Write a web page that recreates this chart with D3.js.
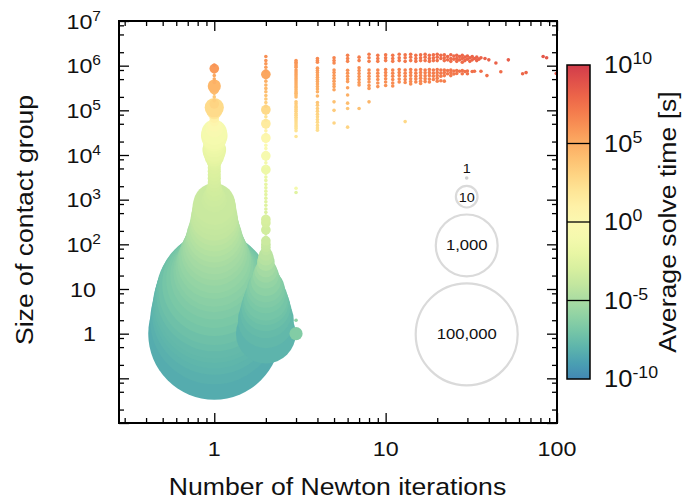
<!DOCTYPE html>
<html>
<head>
<meta charset="utf-8">
<script src="https://cdn.jsdelivr.net/npm/d3@7"></script>
<style>
  body { margin: 0; background: #fff; }
  svg { display: block; }
  text { font-family: "Liberation Sans", Arial, Helvetica, sans-serif; fill: #111; }
</style>
</head>
<body>
<svg id="chart" width="685" height="501"></svg>
<script>
// ---------------------------------------------------------------
// Contact groups solved in one Newton iteration: [group size, number of groups, log10 avg solve time]
const groupsOneIter = [
  [1, 2.5e6, -8.4], [2, 1.6e6, -8.2], [3, 1.1e6, -8.0], [4, 9e5, -7.9], [5, 7e5, -7.8],
  [6, 5.6e5, -7.7], [8, 4e5, -7.5], [10, 2.5e5, -7.3], [13, 1e5, -7.0], [16, 4e4, -6.8],
  [20, 1.6e4, -6.6], [25, 7900, -6.4], [30, 5000, -6.2], [40, 3200, -6.0], [50, 2200, -5.8],
  [65, 1300, -5.6], [80, 890, -5.4], [100, 630, -5.2], [130, 450, -5.0], [160, 355, -4.8],
  [200, 250, -4.6], [250, 200, -4.4], [320, 160, -4.2], [400, 140, -4.0], [500, 112, -3.9],
  [650, 100, -3.8], [800, 80, -3.7], [1000, 12, -3.6], [1200, 8, -3.5], [1450, 5, -3.4],
  [1750, 4, -3.3], [2100, 3, -3.2], [2500, 3, -3.1], [3000, 3, -3.0], [3600, 3, -2.9],
  [4300, 3, -2.8], [5200, 3, -2.7], [6200, 3, -2.6], [7500, 4, -2.5], [9000, 6, -2.3],
  [11000, 8, -2.1], [13000, 10, -1.9], [15500, 8, -1.7], [18500, 8, -1.5], [22000, 10, -1.3],
  [27000, 14, -1.1], [32000, 12, -0.8], [39000, 5, -0.4], [47000, 3, 0.0], [56000, 2, 0.5],
  [67000, 2, 1.0], [80000, 2, 1.5], [96000, 4, 2.0], [115000, 6, 2.6], [140000, 2, 3.0],
  [165000, 1, 3.3], [200000, 1, 3.6], [240000, 1, 3.9], [290000, 2, 4.2], [350000, 3, 4.5],
  [420000, 1, 4.8], [500000, 1, 5.0], [600000, 1, 5.2], [720000, 1, 5.4], [860000, 2, 5.7],
  [1030000, 1, 6.0]
];

// Contact groups solved in two Newton iterations
const groupsTwoIter = [
  [1, 630, -8.0], [2, 400, -7.8], [3, 250, -7.6], [4, 180, -7.4], [5, 125, -7.2],
  [6, 100, -7.0], [8, 63, -6.8], [10, 50, -6.6], [12, 32, -6.4], [15, 20, -6.1],
  [20, 13, -5.8], [25, 9, -5.5], [30, 6, -5.2], [40, 5, -4.8], [50, 4, -4.5],
  [60, 3, -4.3], [72, 2, -4.1], [86, 2, -3.9], [100, 2, -3.8], [120, 2, -3.6],
  [145, 1, -3.5], [175, 1, -3.4], [210, 2, -3.3], [250, 1, -3.2], [300, 2, -3.1],
  [360, 2, -3.0], [430, 1, -2.9], [520, 1, -2.8], [620, 1, -2.7], [750, 1, -2.6],
  [900, 1, -2.5], [1080, 1, -2.4], [1300, 1, -2.3], [1550, 1, -2.2], [1850, 1, -2.1],
  [2200, 1, -2.0], [2700, 1, -1.9], [3200, 1, -1.8], [3900, 1, -1.7], [4700, 2, -1.5],
  [5600, 1, -1.3], [6700, 1, -1.1], [8000, 1, -0.9], [9600, 2, -0.7], [11500, 1, -0.5],
  [14000, 1, -0.3], [16500, 1, -0.1], [20000, 1, 0.1], [24000, 2, 0.3], [29000, 1, 0.6],
  [35000, 1, 0.9], [42000, 1, 1.2], [50000, 2, 1.5], [60000, 1, 1.8], [72000, 1, 2.1],
  [86000, 1, 2.4], [103000, 2, 2.7], [124000, 1, 3.0], [150000, 1, 3.3], [180000, 1, 3.6],
  [215000, 1, 3.9], [260000, 1, 4.2], [310000, 1, 4.4], [370000, 1, 4.6], [450000, 1, 4.8],
  [540000, 1, 5.0], [640000, 2, 5.2], [770000, 1, 5.4], [920000, 1, 5.6], [1100000, 1, 5.8],
  [1300000, 1, 6.0], [1600000, 1, 6.2]
];

// Small contact groups solved in three Newton iterations
const groupsThreeIterSmall = [
  [1, 3, -6.5], [2, 1, -6.0]
];

// Single contact groups with three or more iterations: [iterations, group size, log10 avg solve time]
const singleGroups = [
  [3, 1.3e6, 6.0], [3, 1.2e6, 6.0], [3, 1.1e6, 5.9], [3, 1.0e6, 5.8], [3, 9.2e5, 5.7],
  [3, 8.0e5, 5.6], [3, 7.2e5, 5.5], [3, 6.5e5, 5.4], [3, 5.9e5, 5.3], [3, 5.3e5, 5.2],
  [3, 4.8e5, 5.1], [3, 4.3e5, 5.0], [3, 3.9e5, 4.9], [3, 3.5e5, 4.8], [3, 3.2e5, 4.7],
  [3, 2.9e5, 4.6], [3, 2.6e5, 4.5], [3, 2.4e5, 4.4], [3, 2.2e5, 4.3], [3, 2.0e5, 4.2],
  [3, 1.55e5, 3.6], [3, 1.4e5, 3.5], [3, 1.25e5, 3.4], [3, 1.15e5, 3.3], [3, 1.05e5, 3.2],
  [3, 9.5e4, 3.1], [3, 8.5e4, 3.0], [3, 7.8e4, 2.9], [3, 7.0e4, 2.8], [3, 6.4e4, 2.7],
  [3, 5.8e4, 2.6], [3, 5.2e4, 2.5], [3, 4.7e4, 2.4], [3, 4.3e4, 2.3], [3, 3.9e4, 2.2],
  [3, 3.5e4, 2.1], [3, 2.6e4, 2.0], [3, 1800, -1.0], [3, 1450, -2.5],
  [4, 1.45e6, 6.4], [4, 1.3e6, 6.3], [4, 1.2e6, 6.3], [4, 8.8e5, 5.8], [4, 7.8e5, 5.7],
  [4, 7.0e5, 5.6], [4, 6.2e5, 5.5], [4, 5.5e5, 5.4], [4, 4.9e5, 5.3], [4, 4.4e5, 5.2],
  [4, 3.9e5, 5.1], [4, 3.4e5, 5.0], [4, 3.0e5, 4.9], [4, 2.6e5, 4.8], [4, 2.1e5, 4.5],
  [4, 1.5e5, 3.8], [4, 1.3e5, 3.6], [4, 1.1e5, 3.4], [4, 9.5e4, 3.2], [4, 8.2e4, 3.0],
  [4, 7.2e4, 2.9], [4, 6.2e4, 2.8], [4, 5.4e4, 2.7], [4, 4.6e4, 2.6], [4, 4.0e4, 2.5],
  [4, 3.6e4, 2.4],
  [5, 1.5e6, 6.6], [5, 1.3e6, 6.5], [5, 1.15e6, 6.4], [5, 8e5, 6.0], [5, 7e5, 5.9],
  [5, 6e5, 5.8], [5, 5.2e5, 5.7], [5, 4.5e5, 5.6], [5, 3.9e5, 5.5], [5, 3.4e5, 5.4],
  [5, 2.9e5, 5.3], [5, 1.55e5, 4.0], [5, 1.0e5, 3.5], [5, 5.2e4, 3.0],
  [6, 1.7e6, 6.8], [6, 1.45e6, 6.7], [6, 1.25e6, 6.6], [6, 7.9e5, 6.1], [6, 6.8e5, 6.0],
  [6, 5.8e5, 5.9], [6, 5e5, 5.8], [6, 4.4e5, 5.7], [6, 3.2e5, 5.4], [6, 2.2e5, 4.8],
  [6, 1.45e5, 4.2], [6, 1.1e5, 3.8], [6, 4.2e4, 3.0],
  [7, 1.55e6, 6.9], [7, 1.3e6, 6.8], [7, 9e5, 6.3], [7, 7.8e5, 6.2], [7, 6.7e5, 6.1],
  [7, 5.7e5, 6.0], [7, 4.9e5, 5.9], [7, 4.2e5, 5.8], [7, 3.7e5, 5.7], [7, 1.1e5, 4.0],
  [8, 1.8e6, 7.0], [8, 1.5e6, 6.9], [8, 1.25e6, 6.8], [8, 8e5, 6.4], [8, 6.8e5, 6.3],
  [8, 5.8e5, 6.2], [8, 5e5, 6.1], [8, 4.3e5, 6.0], [8, 3.6e5, 5.9], [8, 3.1e5, 5.8],
  [8, 1.55e5, 4.6],
  [9, 1.7e6, 7.1], [9, 1.45e6, 7.0], [9, 1.25e6, 6.9], [9, 8e5, 6.5], [9, 6.8e5, 6.4],
  [9, 5.8e5, 6.3], [9, 4.9e5, 6.2], [9, 4.1e5, 6.1], [9, 3.4e5, 6.0],
  [10, 1.75e6, 7.2], [10, 1.5e6, 7.1], [10, 1.3e6, 7.0], [10, 8.2e5, 6.6], [10, 7e5, 6.5],
  [10, 6e5, 6.4], [10, 5.1e5, 6.3], [10, 4.3e5, 6.2], [10, 3.6e5, 6.1],
  [11, 1.7e6, 7.2], [11, 1.45e6, 7.1], [11, 1.25e6, 7.0], [11, 8e5, 6.7], [11, 6.8e5, 6.6],
  [11, 5.8e5, 6.5], [11, 4.9e5, 6.4], [11, 4.1e5, 6.3], [11, 3.5e5, 6.2],
  [12, 1.8e6, 7.3], [12, 1.5e6, 7.2], [12, 1.3e6, 7.1], [12, 8.2e5, 6.7], [12, 7e5, 6.6],
  [12, 6e5, 6.5], [12, 5e5, 6.4], [12, 4.3e5, 6.3],
  [13, 1.75e6, 7.3], [13, 1.5e6, 7.2], [13, 1.25e6, 7.1], [13, 8e5, 6.8], [13, 6.8e5, 6.7],
  [13, 5.8e5, 6.6], [13, 4.9e5, 6.5], [13, 4.2e5, 6.4], [13, 5.6e4, 2.8],
  [14, 1.8e6, 7.4], [14, 1.55e6, 7.3], [14, 1.3e6, 7.2], [14, 8.2e5, 6.8], [14, 7e5, 6.7],
  [14, 6e5, 6.6], [14, 5.1e5, 6.5], [14, 4.4e5, 6.4], [14, 3.9e5, 6.3],
  [15, 1.7e6, 7.4], [15, 1.45e6, 7.3], [15, 1.25e6, 7.2], [15, 8e5, 6.9], [15, 6.8e5, 6.8],
  [15, 5.8e5, 6.7], [15, 5e5, 6.6], [15, 4.3e5, 6.5],
  [16, 1.75e6, 7.5], [16, 1.5e6, 7.4], [16, 1.3e6, 7.3], [16, 8.2e5, 6.9], [16, 7e5, 6.8],
  [16, 6e5, 6.7], [16, 5.2e5, 6.6], [16, 4.5e5, 6.5], [16, 4e5, 6.4],
  [17, 1.8e6, 7.5], [17, 1.55e6, 7.4], [17, 1.3e6, 7.3], [17, 8e5, 7.0], [17, 6.9e5, 6.9],
  [17, 5.9e5, 6.8], [17, 5.1e5, 6.7], [17, 4.4e5, 6.6],
  [18, 1.7e6, 7.6], [18, 1.45e6, 7.5], [18, 1.25e6, 7.4], [18, 8.2e5, 7.0], [18, 7e5, 6.9],
  [18, 6e5, 6.8], [18, 5e5, 6.7], [18, 4.3e5, 6.6],
  [19, 1.75e6, 7.6], [19, 1.5e6, 7.5], [19, 1.3e6, 7.4], [19, 8e5, 7.1], [19, 6.8e5, 7.0],
  [19, 5.8e5, 6.9], [19, 4.9e5, 6.8],
  [20, 1.8e6, 7.7], [20, 1.55e6, 7.6], [20, 1.3e6, 7.5], [20, 8.2e5, 7.1], [20, 7e5, 7.0],
  [20, 6e5, 6.9], [20, 5.2e5, 6.8], [20, 4.5e5, 6.7],
  [21, 1.7e6, 7.7], [21, 1.45e6, 7.6], [21, 8e5, 7.2], [21, 6.8e5, 7.1], [21, 5.8e5, 7.0],
  [21, 4.6e5, 6.8],
  [22, 1.75e6, 7.7], [22, 1.5e6, 7.6], [22, 1.3e6, 7.5], [22, 8e5, 7.2], [22, 7e5, 7.1],
  [22, 6e5, 7.0], [22, 4.5e5, 6.8],
  [23, 1.6e6, 7.8], [23, 1.35e6, 7.7], [23, 7.8e5, 7.2], [23, 6.6e5, 7.1],
  [24, 1.75e6, 7.8], [24, 1.45e6, 7.7], [24, 1.25e6, 7.6], [24, 8e5, 7.3], [24, 7e5, 7.2],
  [24, 6e5, 7.1],
  [25, 1.65e6, 7.8], [25, 1.4e6, 7.7], [25, 7.6e5, 7.3], [25, 6.5e5, 7.2],
  [26, 1.7e6, 7.9], [26, 1.45e6, 7.8], [26, 1.25e6, 7.7], [26, 7.8e5, 7.3], [26, 6.7e5, 7.2],
  [27, 1.6e6, 7.9], [27, 1.35e6, 7.8], [27, 7.5e5, 7.4],
  [28, 1.7e6, 7.9], [28, 1.45e6, 7.8], [28, 1.2e6, 7.7], [28, 7.8e5, 7.4], [28, 6.6e5, 7.3],
  [29, 1.55e6, 8.0], [29, 1.3e6, 7.9], [29, 7.4e5, 7.4],
  [30, 1.65e6, 8.0], [30, 1.4e6, 7.9], [30, 7.6e5, 7.5], [30, 6.6e5, 7.4],
  [31, 1.5e6, 8.0], [31, 1.25e6, 7.9],
  [32, 1.6e6, 8.0], [32, 1.35e6, 7.9], [32, 7.4e5, 7.5],
  [33, 1.45e6, 8.1], [33, 7.5e5, 7.5],
  [34, 1.55e6, 8.1], [34, 1.3e6, 8.0],
  [35, 1.4e6, 8.1],
  [36, 1.5e6, 8.1], [36, 7.5e5, 7.6],
  [38, 1.45e6, 8.2], [39, 6.0e5, 7.5], [40, 1.35e6, 8.2], [44, 1.15e6, 8.2],
  [47, 7.3e5, 7.7], [52, 1.35e6, 8.4], [63, 6.6e5, 7.9], [66, 7e5, 8.0],
  [83, 1.6e6, 8.7], [87, 1.5e6, 8.7], [99, 6.7e5, 8.5]
];

// Axis and legend labels
const xTickValues = [1, 10, 100];
const xTickLabels = ["1", "10", "100"];
const yTickExponents = [0, 1, 2, 3, 4, 5, 6, 7];
const colorTickExponents = [10, 5, 0, -5, -10];
const legendCounts = [1, 10, 1000, 100000];
const legendLabels = ["1", "10", "1,000", "100,000"];

// ---------------------------------------------------------------
const svg = d3.select("#chart");
const plot = { left: 119, right: 557, top: 21, bottom: 423 };
const stretch = 1.11;   // horizontal widening applied to all lettering

const x = d3.scaleLog().domain([0.278, 100]).range([plot.left, plot.right]);
const y = d3.scaleLog().domain([0.01, 1e7]).range([plot.bottom, plot.top]);
const r = d3.scaleLog().domain([1, 1e5]).range([1.8, 52]);
const tScale = d3.scaleLinear().domain([-10, 10]).range([0.9, 0.1]);
const color = v => d3.interpolateSpectral(tScale(v));

const defs = svg.append("defs");
defs.append("clipPath").attr("id", "plot-clip")
  .append("rect")
  .attr("x", plot.left).attr("y", plot.top)
  .attr("width", plot.right - plot.left).attr("height", plot.bottom - plot.top);

const marks = svg.append("g").attr("clip-path", "url(#plot-clip)");

function drawColumn(rows, iter) {
  marks.append("g").selectAll("circle")
    .data(rows)
    .join("circle")
    .attr("cx", x(iter))
    .attr("cy", d => y(d[0]))
    .attr("r", d => r(d[1]))
    .attr("fill", d => color(d[2]));
}

drawColumn(groupsOneIter, 1);
drawColumn(groupsTwoIter, 2);
drawColumn(groupsThreeIterSmall, 3);

marks.append("g").selectAll("circle")
  .data(singleGroups)
  .join("circle")
  .attr("cx", d => x(d[0]))
  .attr("cy", d => y(d[1]))
  .attr("r", r(1))
  .attr("fill", d => color(d[2]));

// ---------------------------------------------------------------
// Frame with inward ticks on all four sides
const xMinor = [];
[0.1, 1, 10].forEach(b => d3.range(2, 10).forEach(k => { const v = b * k; if (v > 0.278 && v < 100) xMinor.push(v); }));
const yMajor = d3.range(-2, 8).map(e => Math.pow(10, e));
const yMinor = [];
d3.range(-2, 7).forEach(e => [2, 5, 8].forEach(k => yMinor.push(k * Math.pow(10, e))));

function tickAxis(axisFn, scale, values, size, transform) {
  const g = svg.append("g")
    .attr("transform", transform)
    .call(axisFn(scale).tickValues(values).tickSize(size).tickFormat(""));
  g.select(".domain").remove();
  g.selectAll("line").attr("stroke", "#000").attr("stroke-width", 1.3);
}

tickAxis(d3.axisTop, x, xTickValues, 10, `translate(0,${plot.bottom})`);
tickAxis(d3.axisTop, x, xMinor, 5, `translate(0,${plot.bottom})`);
tickAxis(d3.axisBottom, x, xTickValues, 10, `translate(0,${plot.top})`);
tickAxis(d3.axisBottom, x, xMinor, 5, `translate(0,${plot.top})`);
tickAxis(d3.axisRight, y, yMajor, 10, `translate(${plot.left},0)`);
tickAxis(d3.axisRight, y, yMinor, 5, `translate(${plot.left},0)`);
tickAxis(d3.axisLeft, y, yMajor, 10, `translate(${plot.right},0)`);
tickAxis(d3.axisLeft, y, yMinor, 5, `translate(${plot.right},0)`);

svg.append("rect")
  .attr("x", plot.left).attr("y", plot.top)
  .attr("width", plot.right - plot.left).attr("height", plot.bottom - plot.top)
  .attr("fill", "none").attr("stroke", "#000").attr("stroke-width", 2);

// Text helper: anchored at (tx, ty), widened horizontally
function label(parent, tx, ty, rotate) {
  return parent.append("text")
    .attr("transform", `translate(${tx},${ty})${rotate ? " rotate(" + rotate + ")" : ""} scale(${stretch},1)`);
}

// Tick labels
xTickValues.forEach((v, i) => {
  label(svg, x(v), 456).attr("text-anchor", "middle").attr("font-size", 21).text(xTickLabels[i]);
});

yTickExponents.forEach(e => {
  const t = label(svg, e >= 2 ? 101 : 96, y(Math.pow(10, e)) + 7.5)
    .attr("text-anchor", "end").attr("font-size", 21);
  t.append("tspan").text(e === 0 ? "1" : "10");
  if (e >= 2) t.append("tspan").attr("dy", -8).attr("font-size", 14).text(e);
});

label(svg, 337.5, 495).attr("text-anchor", "middle").attr("font-size", 24)
  .text("Number of Newton iterations");

label(svg, 33, 220, -90).attr("text-anchor", "middle").attr("font-size", 24)
  .text("Size of contact group");

// ---------------------------------------------------------------
// Bubble size legend
const legendX = 466.7;
const legendCy = [];
let prevBottom = null;
legendCounts.forEach(c => {
  const rr = r(c);
  const cy = prevBottom === null ? 178 : prevBottom + 5 + rr;
  legendCy.push(cy);
  prevBottom = cy + rr;
});

const legend = svg.append("g");
legend.selectAll("circle")
  .data(legendCounts)
  .join("circle")
  .attr("cx", legendX)
  .attr("cy", (d, i) => legendCy[i])
  .attr("r", d => d === 1 ? r(d) : r(d) - 1)
  .attr("fill", d => d === 1 ? "#cfcfcf" : "none")
  .attr("stroke", d => d === 1 ? "none" : "#dadada")
  .attr("stroke-width", 2.2);

legendCounts.forEach((c, i) => {
  label(legend, legendX, i === 0 ? legendCy[i] - 5 : legendCy[i] + 5)
    .attr("text-anchor", "middle")
    .attr("font-size", [13, 13, 15, 15][i])
    .text(legendLabels[i]);
});

// ---------------------------------------------------------------
// Colour bar for average solve time
const cb = { x: 567, y0: 65, y1: 379, w: 23 };
const cbY = d3.scaleLinear().domain([-10, 10]).range([cb.y1, cb.y0]);

const grad = defs.append("linearGradient")
  .attr("id", "cb-grad").attr("x1", 0).attr("y1", 1).attr("x2", 0).attr("y2", 0);
grad.selectAll("stop")
  .data(d3.range(0, 21))
  .join("stop")
  .attr("offset", d => d / 20)
  .attr("stop-color", d => color(-10 + d));

svg.append("rect")
  .attr("x", cb.x).attr("y", cb.y0)
  .attr("width", cb.w).attr("height", cb.y1 - cb.y0)
  .attr("fill", "url(#cb-grad)");

svg.append("g").selectAll("line")
  .data(colorTickExponents.filter(e => e > -10 && e < 10))
  .join("line")
  .attr("x1", cb.x).attr("x2", cb.x + cb.w)
  .attr("y1", d => cbY(d)).attr("y2", d => cbY(d))
  .attr("stroke", "#000").attr("stroke-width", 1.3);

svg.append("rect")
  .attr("x", cb.x).attr("y", cb.y0)
  .attr("width", cb.w).attr("height", cb.y1 - cb.y0)
  .attr("fill", "none").attr("stroke", "#000").attr("stroke-width", 1.5);

colorTickExponents.forEach(e => {
  const t = label(svg, 604, cbY(e) + 8).attr("font-size", 23);
  t.append("tspan").text("10");
  t.append("tspan").attr("dy", -9).attr("font-size", 16).text(e);
});

label(svg, 676, 222, -90).attr("text-anchor", "middle").attr("font-size", 24)
  .text("Average solve time [s]");
</script>
</body>
</html>
